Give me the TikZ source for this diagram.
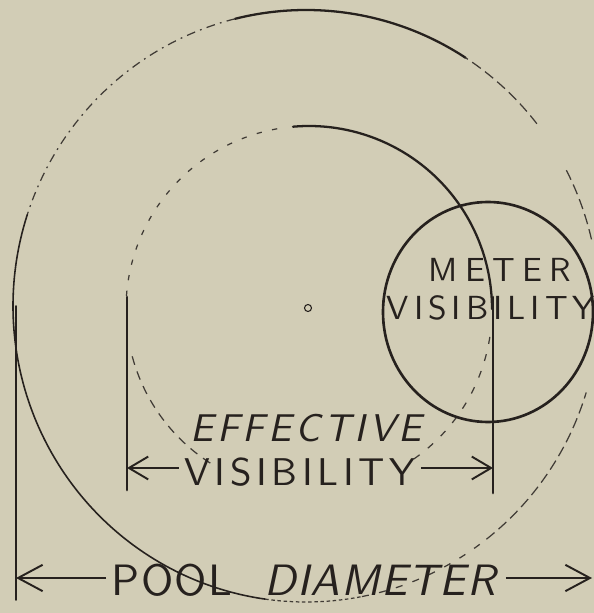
\documentclass[tikz,border=0pt]{standalone}
\usepackage{fontspec}
\setsansfont{lmsans10-regular.otf}[ItalicFont=lmsans10-oblique.otf]
\usetikzlibrary{arrows.meta}
\definecolor{paper}{RGB}{210,205,182}
\definecolor{pencil}{RGB}{38,33,30}
\tikzstyle{ink} = [draw=pencil, line width=1.2pt, line cap=round]
\tikzstyle{faint} = [draw=pencil!85!paper, line width=0.7pt, dash pattern=on 6pt off 3pt]
\tikzstyle{lbl} = [text=pencil, inner sep=3pt]
\tikzstyle{dim} = [draw=pencil, line width=1.1pt, -{Straight Barb[length=11pt,width=13pt,line width=1.1pt]}]

\begin{document}
\begin{tikzpicture}[x=0.02cm, y=0.02cm]
        \fill[paper] (0,0) rectangle (594,613);
        \useasboundingbox (0,0) rectangle (594,613);
        \coordinate (poolc) at (306,307);
        \coordinate (effc) at (309,304);
        \coordinate (meterc) at (488,301);

        % pool outline, partly traced
        \draw[ink, line width=1.3pt] (poolc) ++(57:293 and 296) arc[start angle=57, end angle=104, x radius=293, y radius=296];
        \draw[faint, dash pattern=on 5pt off 3pt on 1pt off 3pt] (poolc) ++(104:293 and 296) arc[start angle=104, end angle=162, x radius=293, y radius=296];
        \draw[ink, line width=0.9pt] (poolc) ++(162:293 and 296) arc[start angle=162, end angle=262, x radius=293, y radius=296];
        \draw[faint, dash pattern=on 2pt off 1.5pt] (poolc) ++(262:293 and 296) arc[start angle=262, end angle=281, x radius=293, y radius=296];
        \draw[faint, dash pattern=on 4pt off 6pt] (poolc) ++(281:293 and 296) arc[start angle=281, end angle=308, x radius=293, y radius=296];
        \draw[faint] (poolc) ++(308:293 and 296) arc[start angle=308, end angle=343, x radius=293, y radius=296];
        \draw[faint] (poolc) ++(13:293 and 296) arc[start angle=13, end angle=28, x radius=293, y radius=296];
        \draw[faint] (poolc) ++(38:293 and 296) arc[start angle=38, end angle=57, x radius=293, y radius=296];

        % effective circle
        \draw[ink, line width=1.3pt] (effc) ++(95:183) arc[start angle=95, end angle=0, radius=183];
        \draw[faint, dash pattern=on 3pt off 6pt] (effc) ++(100:183) arc[start angle=100, end angle=178, radius=183];
        \draw[faint, dash pattern=on 5pt off 4pt] (effc) ++(195:183) arc[start angle=195, end angle=238, radius=183];
        \draw[faint, dash pattern=on 4pt off 6pt] (effc) ++(-55:183) arc[start angle=-55, end angle=-8, radius=183];
        \node (centre) [circle, draw=pencil, line width=0.6pt, inner sep=0pt, minimum size=4pt] at (308,305) {};

        % meter circle
        \draw[ink, line width=1.5pt] (meterc) ellipse [x radius=105, y radius=110];
        \node (metertxt) [lbl, font=\sffamily\fontsize{19}{19}\selectfont\addfontfeatures{LetterSpace=22}] at (500,343) {METER};
        \node (mvistxt) [lbl, font=\sffamily\fontsize{19}{19}\selectfont\addfontfeatures{LetterSpace=15}] at (491,305) {VISIBILITY};

        % effective visibility dimension
        \coordinate (effLtop) at (127,316);
        \coordinate (effLbot) at (127,123);
        \coordinate (effRtop) at (493,316);
        \coordinate (effRbot) at (493,120);
        \coordinate (effL) at (127,145);
        \coordinate (effR) at (493,145);
        \draw[ink, line width=1.6pt] (effLtop) -- (effLbot);
        \draw[ink, line width=1.6pt] (effRtop) -- (effRbot);
        \node (efftxt) [lbl, font=\sffamily\itshape\fontsize{22}{22}\selectfont\addfontfeatures{LetterSpace=10}] at (306,185) {EFFECTIVE};
        \node (vistxt) [lbl, font=\sffamily\fontsize{22}{22}\selectfont\addfontfeatures{LetterSpace=12}] at (300,141) {VISIBILITY};
        \draw[dim] (vistxt.west |- effL) -- (effL);
        \draw[dim] (vistxt.east |- effR) -- (effR);

        % pool diameter dimension
        \coordinate (poolLtop) at (16,307);
        \coordinate (poolLbot) at (16,13);
        \coordinate (poolL) at (16,35);
        \coordinate (poolR) at (592,35);
        \draw[ink, line width=0.9pt] (poolLtop) -- (poolLbot);
        \node (pooltxt) [lbl, font=\sffamily\fontsize{25}{25}\selectfont\addfontfeatures{LetterSpace=3}] at (306,33) {POOL\ \ \textit{DIAMETER}};
        \draw[dim, -{Straight Barb[length=14pt,width=15pt,line width=1.1pt]}] (pooltxt.west |- poolL) -- (poolL);
        \draw[dim, -{Straight Barb[length=14pt,width=15pt,line width=1.1pt]}] (pooltxt.east |- poolR) -- (poolR);
\end{tikzpicture}
\end{document}
